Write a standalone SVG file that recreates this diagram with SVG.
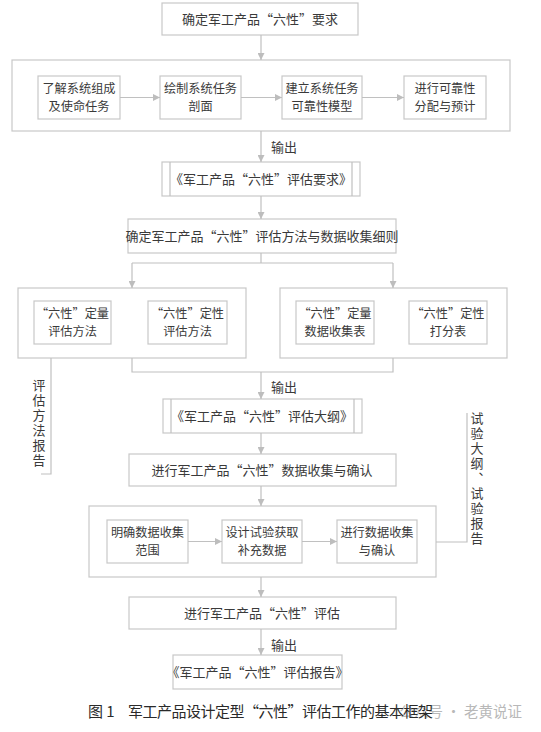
<svg xmlns="http://www.w3.org/2000/svg" width="541" height="732" viewBox="0 0 541 732">
<style>
.bx{fill:none;stroke:#c8c8c8;stroke-width:1.2}
.ln{fill:none;stroke:#c0c0c0;stroke-width:1.2}
.t{font-family:"Noto Sans CJK SC","Liberation Serif",serif;font-size:13px;fill:#3a3a3a;text-anchor:middle}
.t2{font-family:"Noto Sans CJK SC","Liberation Serif",serif;font-size:12.2px;fill:#3a3a3a;text-anchor:middle}
.tl{font-family:"Noto Sans CJK SC","Liberation Serif",serif;font-size:13px;fill:#3a3a3a}
.tv{font-family:"Noto Sans CJK SC","Liberation Serif",serif;font-size:13px;fill:#3a3a3a;writing-mode:vertical-rl;letter-spacing:2px}
.cap{font-family:"Noto Sans CJK SC","Liberation Serif",serif;font-size:15px;fill:#2a2a2a}
.wm{font-family:"Noto Sans CJK SC","Liberation Sans",sans-serif;font-size:14.5px;fill:#b8b8b8;text-anchor:end}
</style>
<defs>
<marker id="ah" viewBox="0 0 8 8" refX="8" refY="4" markerWidth="7" markerHeight="7" markerUnits="userSpaceOnUse" orient="auto">
<path d="M0,0 L8,4 L0,8 z" fill="#bdbdbd"/>
</marker>
</defs>
<rect width="541" height="732" fill="#fff"/>
<g id="n-top"><rect class="bx" x="162" y="3" width="196" height="32"/><text class="t" x="260" y="24">确定军工产品“六性”要求</text></g>
<g id="n-group1"><rect class="bx" x="12" y="60" width="498" height="71"/></g>
<g id="n-a"><rect class="bx" x="38" y="76" width="82" height="43"/><text class="t2"><tspan x="79" y="93">了解系统组成</tspan><tspan x="79" y="111">及使命任务</tspan></text></g>
<g id="n-b"><rect class="bx" x="160" y="76" width="81" height="43"/><text class="t2"><tspan x="200.5" y="93">绘制系统任务</tspan><tspan x="200.5" y="111">剖面</tspan></text></g>
<g id="n-c"><rect class="bx" x="282" y="76" width="80" height="43"/><text class="t2"><tspan x="322" y="93">建立系统任务</tspan><tspan x="322" y="111">可靠性模型</tspan></text></g>
<g id="n-d"><rect class="bx" x="404" y="76" width="82" height="43"/><text class="t2"><tspan x="445" y="93">进行可靠性</tspan><tspan x="445" y="111">分配与预计</tspan></text></g>
<g id="n-req"><rect class="bx" x="162" y="162" width="198" height="34"/><path class="ln" d="M170,162 V196 M352,162 V196"/><text class="t" x="261" y="184">《军工产品“六性”评估要求》</text></g>
<g id="n-method"><rect class="bx" x="128" y="219" width="268" height="34"/><text class="t" x="262" y="241">确定军工产品“六性”评估方法与数据收集细则</text></g>
<g id="n-left"><rect class="bx" x="18" y="288" width="228" height="70"/></g>
<g id="n-right"><rect class="bx" x="280" y="288" width="227" height="70"/></g>
<g id="n-l1"><rect class="bx" x="34" y="301" width="77" height="43"/><text class="t2"><tspan x="72.5" y="318">“六性”定量</tspan><tspan x="72.5" y="336">评估方法</tspan></text></g>
<g id="n-l2"><rect class="bx" x="148" y="301" width="79" height="43"/><text class="t2"><tspan x="187.5" y="318">“六性”定性</tspan><tspan x="187.5" y="336">评估方法</tspan></text></g>
<g id="n-r1"><rect class="bx" x="296" y="301" width="78" height="43"/><text class="t2"><tspan x="335" y="318">“六性”定量</tspan><tspan x="335" y="336">数据收集表</tspan></text></g>
<g id="n-r2"><rect class="bx" x="409" y="301" width="78" height="43"/><text class="t2"><tspan x="448" y="318">“六性”定性</tspan><tspan x="448" y="336">打分表</tspan></text></g>
<g id="n-outline"><rect class="bx" x="163" y="399" width="199" height="34"/><path class="ln" d="M171,399 V433 M354,399 V433"/><text class="t" x="262" y="421">《军工产品“六性”评估大纲》</text></g>
<g id="n-collect"><rect class="bx" x="129" y="454" width="267" height="32"/><text class="t" x="262" y="475">进行军工产品“六性”数据收集与确认</text></g>
<g id="n-group3"><rect class="bx" x="89" y="506" width="347" height="71"/></g>
<g id="n-m1"><rect class="bx" x="107" y="520" width="81" height="43"/><text class="t2"><tspan x="147.5" y="537">明确数据收集</tspan><tspan x="147.5" y="555">范围</tspan></text></g>
<g id="n-m2"><rect class="bx" x="222" y="520" width="80" height="43"/><text class="t2"><tspan x="262" y="537">设计试验获取</tspan><tspan x="262" y="555">补充数据</tspan></text></g>
<g id="n-m3"><rect class="bx" x="337" y="520" width="80" height="43"/><text class="t2"><tspan x="377" y="537">进行数据收集</tspan><tspan x="377" y="555">与确认</tspan></text></g>
<g id="n-eval"><rect class="bx" x="129" y="597" width="267" height="32"/><text class="t" x="262" y="618">进行军工产品“六性”评估</text></g>
<g id="n-report"><rect class="bx" x="173" y="655" width="169" height="34"/><text class="t" x="257.5" y="677">《军工产品“六性”评估报告》</text></g>
<g id="connectors">
<line class="ln" x1="261" y1="35" x2="261" y2="60" marker-end="url(#ah)"/>
<line class="ln" x1="120" y1="97.5" x2="160" y2="97.5" marker-end="url(#ah)"/>
<line class="ln" x1="241" y1="97.5" x2="282" y2="97.5" marker-end="url(#ah)"/>
<line class="ln" x1="362" y1="97.5" x2="404" y2="97.5" marker-end="url(#ah)"/>
<line class="ln" x1="261" y1="131" x2="261" y2="162" marker-end="url(#ah)"/>
<line class="ln" x1="261" y1="196" x2="261" y2="219" marker-end="url(#ah)"/>
<path class="ln" d="M261,253 V263 M132,263 H393"/>
<line class="ln" x1="132" y1="263" x2="132" y2="288" marker-end="url(#ah)"/>
<line class="ln" x1="393" y1="263" x2="393" y2="288" marker-end="url(#ah)"/>
<path class="ln" d="M132,358 V372 H393 V358"/>
<line class="ln" x1="261" y1="372" x2="261" y2="399" marker-end="url(#ah)"/>
<line class="ln" x1="261" y1="433" x2="261" y2="454" marker-end="url(#ah)"/>
<line class="ln" x1="261" y1="486" x2="261" y2="506" marker-end="url(#ah)"/>
<line class="ln" x1="188" y1="541.5" x2="222" y2="541.5" marker-end="url(#ah)"/>
<line class="ln" x1="302" y1="541.5" x2="337" y2="541.5" marker-end="url(#ah)"/>
<line class="ln" x1="261" y1="577" x2="261" y2="597" marker-end="url(#ah)"/>
<line class="ln" x1="261" y1="629" x2="261" y2="655" marker-end="url(#ah)"/>
<path class="ln" d="M51,358 V474 H41"/>
<path class="ln" d="M436,542 H467 V413"/>
<text class="tl" x="271" y="152">输出</text>
<text class="tl" x="271" y="392">输出</text>
<text class="tl" x="271" y="650">输出</text>
<text class="tv" x="39" y="379">评估方法报告</text>
<text class="tv" x="477" y="412">试验大纲、试验报告</text>
</g>
<g id="caption">
<text class="wm" x="522" y="717">公众号 · 老黄说证</text>
<text class="cap" y="717"><tspan x="88">图 1</tspan><tspan x="128" textLength="305" lengthAdjust="spacing">军工产品设计定型“六性”评估工作的基本框架</tspan></text>
</g>
</svg>
